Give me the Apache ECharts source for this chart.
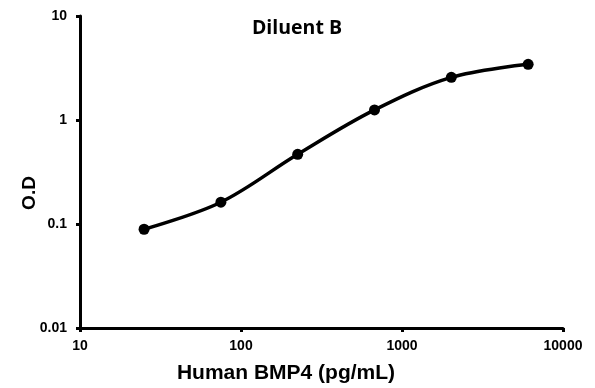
<!DOCTYPE html>
<html>
<head>
<meta charset="utf-8">
<script src="https://cdn.jsdelivr.net/npm/echarts@6/dist/echarts.min.js"></script>
<style>html,body{margin:0;padding:0;background:#fff;}#c{width:595px;height:388px;}</style>
</head>
<body>
<div id="c"></div>
<script>
const concentrations = [25, 75, 225, 675, 2025, 6075];
const odValues = [0.089, 0.162, 0.468, 1.25, 2.57, 3.43];
const chartTitle = 'Diluent B';
const xTitle = 'Human BMP4 (pg/mL)';
const yTitle = 'O.D';

const chart = echarts.init(document.getElementById('c'), null, {renderer: 'canvas'});
const labelFont = {color: '#000', fontFamily: 'Liberation Sans, Arial, sans-serif', fontWeight: 'bold', fontSize: 14};
chart.setOption({
  animation: false,
  backgroundColor: '#fff',
  grid: {left: 80, right: 32, top: 16, bottom: 60, containLabel: false, outerBoundsMode: 'none'},
  xAxis: {
    type: 'log', logBase: 10, min: 10, max: 10000,
    axisLine: {lineStyle: {color: '#000', width: 3}},
    axisTick: {show: true, length: 4, lineStyle: {color: '#000', width: 3}},
    minorTick: {show: false},
    splitLine: {show: false},
    axisLabel: Object.assign({margin: 11, formatter: v => String(Math.round(v))}, labelFont)
  },
  yAxis: {
    type: 'log', logBase: 10, min: 0.01, max: 10,
    axisLine: {lineStyle: {color: '#000', width: 3}},
    axisTick: {show: true, length: 4, lineStyle: {color: '#000', width: 3}},
    minorTick: {show: false},
    splitLine: {show: false},
    axisLabel: Object.assign({margin: 13, formatter: v => {
      const r = Math.round(v * 100) / 100; return String(r);
    }}, labelFont)
  },
  graphic: [
    {type: 'text', x: 297, y: 28, style: {text: chartTitle, fill: '#000', font: 'bold 19.5px "Open Sans", "Noto Sans", sans-serif', align: 'center', verticalAlign: 'middle'}},
    {type: 'text', x: 286, y: 373, style: {text: xTitle, fill: '#000', font: 'bold 21px "Liberation Sans", Arial, sans-serif', align: 'center', verticalAlign: 'middle'}},
    {type: 'text', x: 30, y: 193, rotation: Math.PI / 2, style: {text: yTitle, fill: '#000', font: 'bold 19px "Liberation Sans", Arial, sans-serif', align: 'center', verticalAlign: 'middle'}}
  ],
  series: [{
    type: 'line',
    data: concentrations.map((c, i) => [c, odValues[i]]),
    smooth: 0.35,
    symbol: 'circle', symbolSize: 11,
    itemStyle: {color: '#000'},
    lineStyle: {color: '#000', width: 3.5}
  }]
});
</script>
</body>
</html>
